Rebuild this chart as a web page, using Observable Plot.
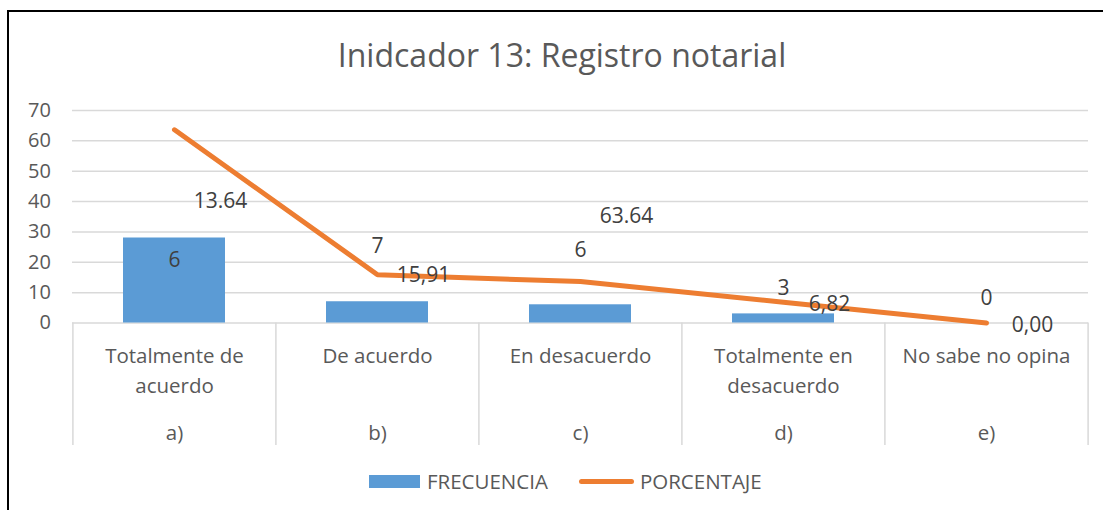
<!DOCTYPE html>
<html>
<head>
<meta charset="utf-8">
<script src="https://cdn.jsdelivr.net/npm/d3@7"></script>
<script src="https://cdn.jsdelivr.net/npm/@observablehq/plot@0.6"></script>
<style>
  html, body { margin: 0; padding: 0; background: #fff; overflow: hidden; width: 1103px; height: 510px; }
  body { font-family: "Open Sans", "Liberation Sans", sans-serif; position: relative; }
  #frame { position: absolute; left: 7px; top: 10px; width: 1300px; height: 700px; border: 2px solid #000; box-sizing: border-box; }
  #title { position: absolute; left: 0; top: 33px; width: 1124px; text-align: center; font-size: 32px; color: #595959; line-height: 44px; white-space: nowrap; }
  #chart { position: absolute; left: 0; top: 90px; }
  #legend { position: absolute; left: 369px; top: 471px; height: 20px; display: flex; align-items: center; font-size: 20.5px; color: #595959; }
  .sw-bar { width: 51px; height: 13px; background: #5B9BD5; margin-right: 7px; }
  .sw-line { width: 55px; height: 5px; border-radius: 3px; background: #ED7D31; margin-left: 31px; margin-right: 6px; }
</style>
</head>
<body>
<div id="frame"></div>
<div id="title">Inidcador 13: Registro notarial</div>
<div id="chart"></div>
<div id="legend"></div>
<script>
// ---- data ----
const categories = ["Totalmente de acuerdo", "De acuerdo", "En desacuerdo", "Totalmente en desacuerdo", "No sabe no opina"];
const categoryLabels = ["Totalmente de\nacuerdo", "De acuerdo", "En desacuerdo", "Totalmente en\ndesacuerdo", "No sabe no opina"];
const letters = ["a)", "b)", "c)", "d)", "e)"];
const frecuencia = [28, 7, 6, 3, 0];
const porcentaje = [63.64, 15.91, 13.64, 6.82, 0.00];
const barLabels = ["6", "7", "6", "3", "0"];
const lineLabels = ["13.64", "15,91", "63.64", "6,82", "0,00"];
const yTicks = [0, 10, 20, 30, 40, 50, 60, 70];
const seriesNames = ["FRECUENCIA", "PORCENTAJE"];

// ---- layout (label placement shifts, in y units, as dragged in the original) ----
const barLabelShift = [-7.2, 18.4, 18.0, 8.4, 8.2];
const lineLabelShift = [-23.4, -0.3, 21.5, -0.5, -0.8];

const rows = categories.map((c, i) => ({
  cat: c, label: categoryLabels[i], letter: letters[i],
  f: frecuencia[i], p: porcentaje[i],
  fl: barLabels[i], pl: lineLabels[i],
  fy: frecuencia[i] + barLabelShift[i],
  py: porcentaje[i] + lineLabelShift[i]
}));

const W = 1103, H = 370;
const mL = 72, mR = 15, mT = 20, mB = 137.5;
const step = (W - mL - mR) / categories.length;
const pxPerUnit = (H - mT - mB) / 70;
const below = px => -px / pxPerUnit;

const plot = Plot.plot({
  width: W, height: H,
  marginLeft: mL, marginRight: mR, marginTop: mT, marginBottom: mB,
  style: { fontFamily: "Open Sans, sans-serif", fontSize: "19px", color: "#595959", background: "transparent", overflow: "visible" },
  x: { domain: categories, paddingInner: 0.5, paddingOuter: 0.25, axis: null },
  y: { domain: [0, 70], axis: null },
  marks: [
    Plot.ruleY(yTicks, { stroke: "#d9d9d9", strokeWidth: 1.5 }),
    Plot.text(yTicks, { x: () => categories[0], y: d => d, text: d => String(d), textAnchor: "end", dx: -(step / 2) - 22, fill: "#595959", fontSize: 20 }),
    Plot.ruleX(categories, { x: d => d, y1: 0, y2: below(122.5), dx: -step / 2, stroke: "#d9d9d9", strokeWidth: 1.5 }),
    Plot.ruleX([categories[categories.length - 1]], { x: d => d, y1: 0, y2: below(122.5), dx: step / 2, stroke: "#d9d9d9", strokeWidth: 1.5 }),
    Plot.barY(rows, { x: "cat", y: "f", fill: "#5B9BD5" }),
    Plot.line(rows, { x: "cat", y: "p", stroke: "#ED7D31", strokeWidth: 5, strokeLinecap: "round", strokeLinejoin: "round" }),
    Plot.text(rows, { x: "cat", y: "fy", text: "fl", fill: "#404040", fontSize: 21 }),
    Plot.text(rows, { x: "cat", y: "py", text: "pl", dx: 46, fill: "#404040", fontSize: 21 }),
    Plot.text(rows, { x: "cat", y: 0, text: "label", dy: 19, lineAnchor: "top", lineHeight: 1.46, fill: "#595959", fontSize: 20.5, textAnchor: "middle" }),
    Plot.text(rows, { x: "cat", y: 0, text: "letter", dy: 110, fill: "#595959", fontSize: 20.5 })
  ]
});
document.getElementById("chart").appendChild(plot);

// legend
const lg = document.getElementById("legend");
lg.innerHTML = `<div class="sw-bar"></div><span>${seriesNames[0]}</span><div class="sw-line"></div><span>${seriesNames[1]}</span>`;
</script>
</body>
</html>
